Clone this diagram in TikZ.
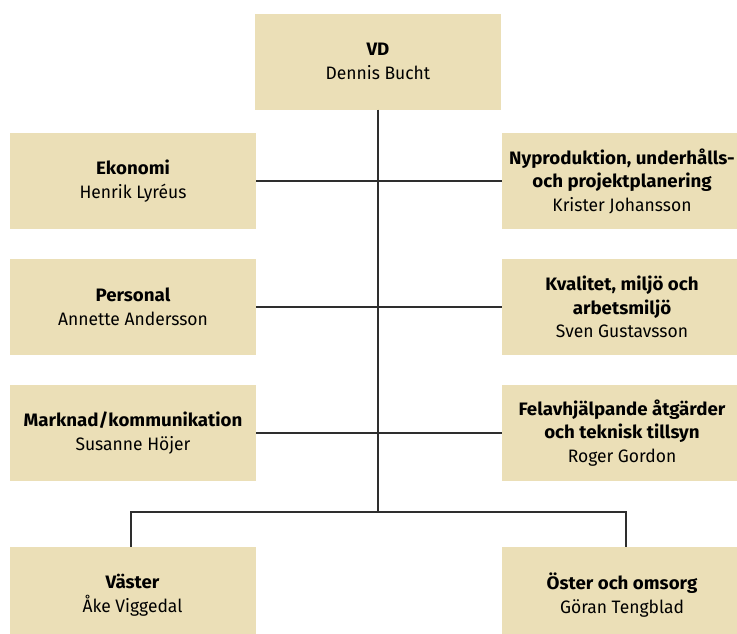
\documentclass[tikz,border=0pt]{standalone}
\usepackage{fontspec}
\setmainfont{Fira Sans}[FakeStretch=0.97, BoldFeatures={FakeStretch=1.04}]
\definecolor{boxfill}{HTML}{EBDFB7}
\definecolor{linecol}{HTML}{2E2E2E}
\begin{document}
\begin{tikzpicture}[x=1pt,y=-1pt,
  orgbox/.style={fill=boxfill, draw=none, minimum width=246pt, minimum height=96pt,
    inner sep=0pt, align=center, font=\fontsize{18}{23.5}\selectfont},
  conn/.style={draw=linecol, line width=1.1pt}]
\useasboundingbox (0,0) rectangle (737,633);
\clip (0,0) rectangle (737,633);
\node[orgbox] (vd) at (378,61.5) {\textbf{VD}\\Dennis Bucht};
\node[orgbox] (eko) at (133,181) {\textbf{Ekonomi}\\Henrik Lyréus};
\node[orgbox] (per) at (133,307) {\textbf{Personal}\\Annette Andersson};
\node[orgbox] (mark) at (133,433) {\textbf{Marknad/kommunikation}\\Susanne Höjer};
\node[orgbox, minimum width=240pt] (nyp) at (622,181) {\textbf{Nyproduktion, underhålls-}\\\textbf{och projektplanering}\\Krister Johansson};
\node[orgbox, minimum width=240pt] (kval) at (622,307) {\textbf{Kvalitet, miljö och}\\\textbf{arbetsmiljö}\\Sven Gustavsson};
\node[orgbox, minimum width=240pt] (fel) at (622,433) {\textbf{Felavhjälpande åtgärder}\\\textbf{och teknisk tillsyn}\\Roger Gordon};
\node[orgbox] (vas) at (132.5,595) {\textbf{Väster}\\Åke Viggedal};
\node[orgbox, minimum width=240pt] (ost) at (622,595) {\textbf{Öster och omsorg}\\Göran Tengblad};
\coordinate (mid) at (378,512);
\coordinate (lft) at (131,512);
\coordinate (rgt) at (626,512);
\draw[conn] (vd.south) -- (mid);
\draw[conn] (eko.east) -- (nyp.west);
\draw[conn] (per.east) -- (kval.west);
\draw[conn] (mark.east) -- (fel.west);
\draw[conn] (vas.north -| lft) -- (lft) -- (rgt) -- (rgt |- ost.north);
\end{tikzpicture}
\end{document}
